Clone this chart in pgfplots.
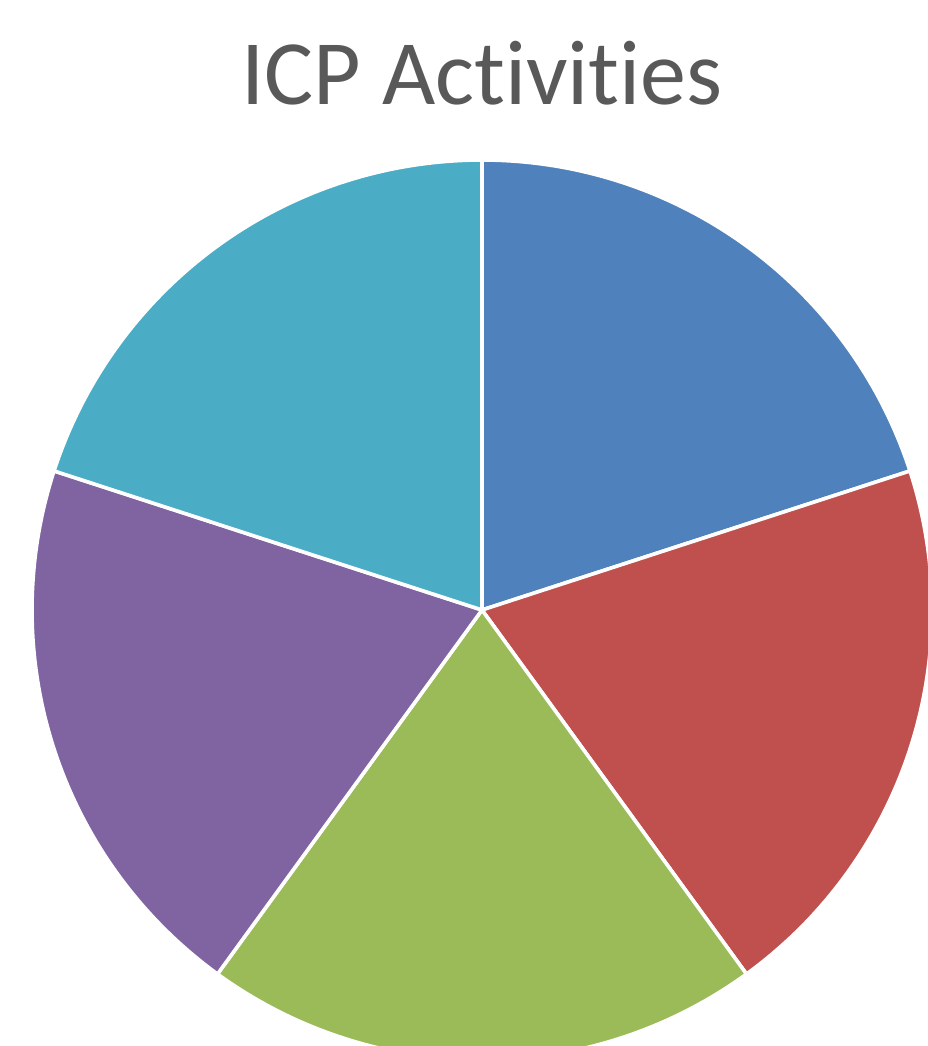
\documentclass[border=0pt]{standalone}
\usepackage{pgfplots}
\pgfplotsset{compat=1.18}
\usepackage{fontspec}
\setmainfont{Carlito}[Ligatures=CommonOff]
\definecolor{cA}{HTML}{4F81BD}
\definecolor{cB}{HTML}{C0504D}
\definecolor{cC}{HTML}{9BBB59}
\definecolor{cD}{HTML}{8064A2}
\definecolor{cE}{HTML}{4BACC6}
\definecolor{titlegray}{HTML}{595959}
% slice values (equal shares)
\def\vA{20}\def\vB{20}\def\vC{20}\def\vD{20}\def\vE{20}
\pgfmathsetmacro\tot{\vA+\vB+\vC+\vD+\vE}
\pgfmathsetmacro\aZ{90}
\pgfmathsetmacro\aA{\aZ-360*\vA/\tot}
\pgfmathsetmacro\aB{\aA-360*\vB/\tot}
\pgfmathsetmacro\aC{\aB-360*\vC/\tot}
\pgfmathsetmacro\aD{\aC-360*\vD/\tot}
\pgfmathsetmacro\aE{\aD-360*\vE/\tot}
\def\cx{482}\def\cy{436}\def\rr{450}
\begin{document}
\begin{tikzpicture}
\useasboundingbox (0,0) rectangle (232pt,261.5pt);
\begin{axis}[at={(0,0)}, anchor=south west, scale only axis,
  width=232pt, height=261.5pt, xmin=0, xmax=928, ymin=0, ymax=1046,
  hide axis, clip=true]
\addplot[fill=cA, draw=white, line width=0.9pt, domain=\aZ:\aA, samples=80, variable=\t]
  ({\cx+\rr*cos(\t)},{\cy+\rr*sin(\t)}) -- (\cx,\cy) -- cycle;
\addplot[fill=cB, draw=white, line width=0.9pt, domain=\aA:\aB, samples=80, variable=\t]
  ({\cx+\rr*cos(\t)},{\cy+\rr*sin(\t)}) -- (\cx,\cy) -- cycle;
\addplot[fill=cC, draw=white, line width=0.9pt, domain=\aB:\aC, samples=80, variable=\t]
  ({\cx+\rr*cos(\t)},{\cy+\rr*sin(\t)}) -- (\cx,\cy) -- cycle;
\addplot[fill=cD, draw=white, line width=0.9pt, domain=\aC:\aD, samples=80, variable=\t]
  ({\cx+\rr*cos(\t)},{\cy+\rr*sin(\t)}) -- (\cx,\cy) -- cycle;
\addplot[fill=cE, draw=white, line width=0.9pt, domain=\aD:\aE, samples=80, variable=\t]
  ({\cx+\rr*cos(\t)},{\cy+\rr*sin(\t)}) -- (\cx,\cy) -- cycle;
\end{axis}
\node[anchor=base, text=titlegray, inner sep=0pt] at (120.5pt,235.25pt)
  {\fontsize{23}{28}\selectfont ICP Activities};
\end{tikzpicture}
\end{document}
